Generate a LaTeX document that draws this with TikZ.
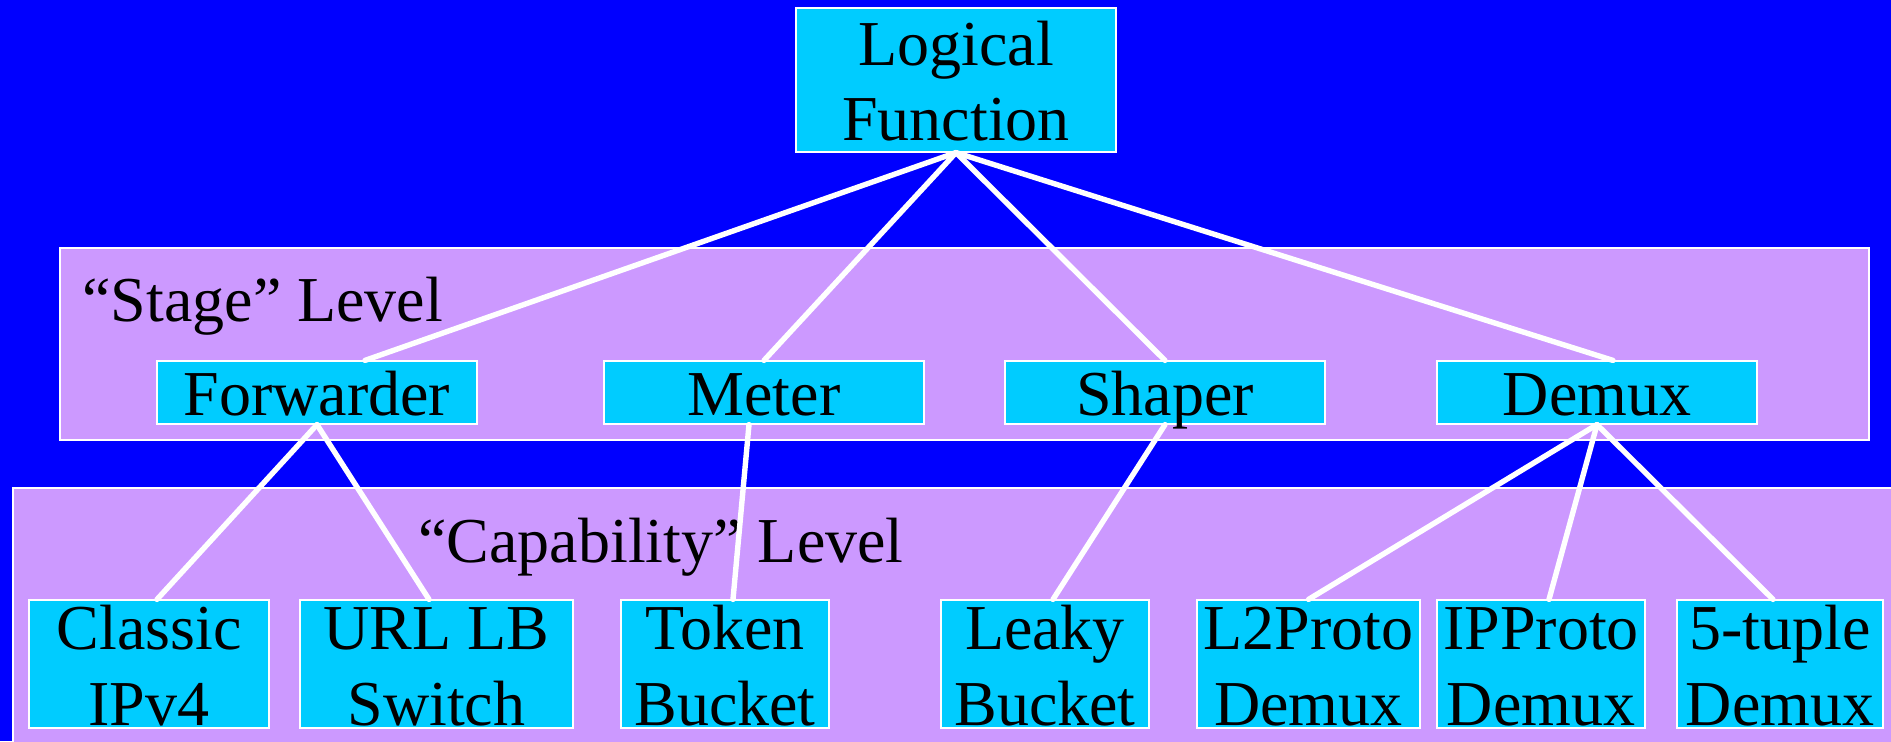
\documentclass[tikz,border=0pt]{standalone}
\usepackage{fontspec}
\setmainfont{Liberation Serif}
\definecolor{slidebg}{HTML}{0000FF}
\definecolor{panelfill}{HTML}{CC99FF}
\definecolor{boxfill}{HTML}{00CCFF}

\begin{document}
\begin{tikzpicture}[x=0.5pt,y=-0.5pt,
  panel/.style={draw=white,line width=0.6pt,fill=panelfill},
  fbox/.style={draw=white,line width=0.6pt,fill=boxfill,inner sep=0pt,
    align=center,font=\fontsize{32}{38}\selectfont},
  onebox/.style={fbox,minimum width=160pt,text height=27pt,text depth=4.5pt},
  twobox/.style={fbox,text height=62.5pt,text depth=1.5pt},
  levellabel/.style={anchor=base west,inner sep=0pt,font=\fontsize{32}{38}\selectfont},
  link/.style={draw=white,line width=2.7pt,line cap=round}]

% canvas
\useasboundingbox (0,0) rectangle (1891,741);
\fill[slidebg] (0,0) rectangle (1891,741);

% level panels
\path[panel] (60,248) rectangle (1869,440);
\path[panel] (13,488) rectangle (1900,760);
\node[levellabel] (stagelbl) at (82,321) {“Stage” Level};
\node[levellabel] (caplbl) at (418,562) {“Capability” Level};

% top function
\node[fbox,minimum width=160pt,text height=66pt,text depth=6pt,
  font=\fontsize{32}{37.5}\selectfont] (root) at (956,80) {Logical\\Function};

% stages
\node[onebox] (fwd)    at (317,392.5)  {Forwarder};
\node[onebox] (meter)  at (764,392.5)  {Meter};
\node[onebox] (shaper) at (1165,392.5) {Shaper};
\node[onebox] (demux)  at (1597,392.5) {Demux};

% capabilities
\node[twobox,minimum width=120pt]   (classic) at (149,664)    {Classic\\IPv4};
\node[twobox,minimum width=136.5pt] (urllb)   at (436.5,664)  {URL LB\\Switch};
\node[twobox,minimum width=104pt]   (token)   at (725,664)    {Token\\Bucket};
\node[twobox,minimum width=104pt]   (leaky)   at (1045,664)   {Leaky\\Bucket};
\node[twobox,minimum width=111.5pt] (ltwo)    at (1308.5,664) {L2Proto\\Demux};
\node[twobox,minimum width=104pt]   (ipp)     at (1541,664)   {IPProto\\Demux};
\node[twobox,minimum width=103pt]   (five)    at (1780,664)   {5-tuple\\Demux};

% function to stages
\draw[link] (root.south) -- ([xshift=24pt]fwd.north);
\draw[link] (root.south) -- (meter.north);
\draw[link] (root.south) -- (shaper.north);
\draw[link] (root.south) -- ([xshift=8pt]demux.north);

% stages to capabilities
\draw[link] (fwd.south) -- ([xshift=4pt]classic.north);
\draw[link] (fwd.south) -- ([xshift=-3.75pt]urllb.north);
\draw[link] ([xshift=-7.5pt]meter.south) -- ([xshift=4pt]token.north);
\draw[link] (shaper.south) -- ([xshift=4pt]leaky.north);
\draw[link] (demux.south) -- (ltwo.north);
\draw[link] (demux.south) -- ([xshift=4pt]ipp.north);
\draw[link] (demux.south) -- ([xshift=-3.5pt]five.north);
\end{tikzpicture}
\end{document}
